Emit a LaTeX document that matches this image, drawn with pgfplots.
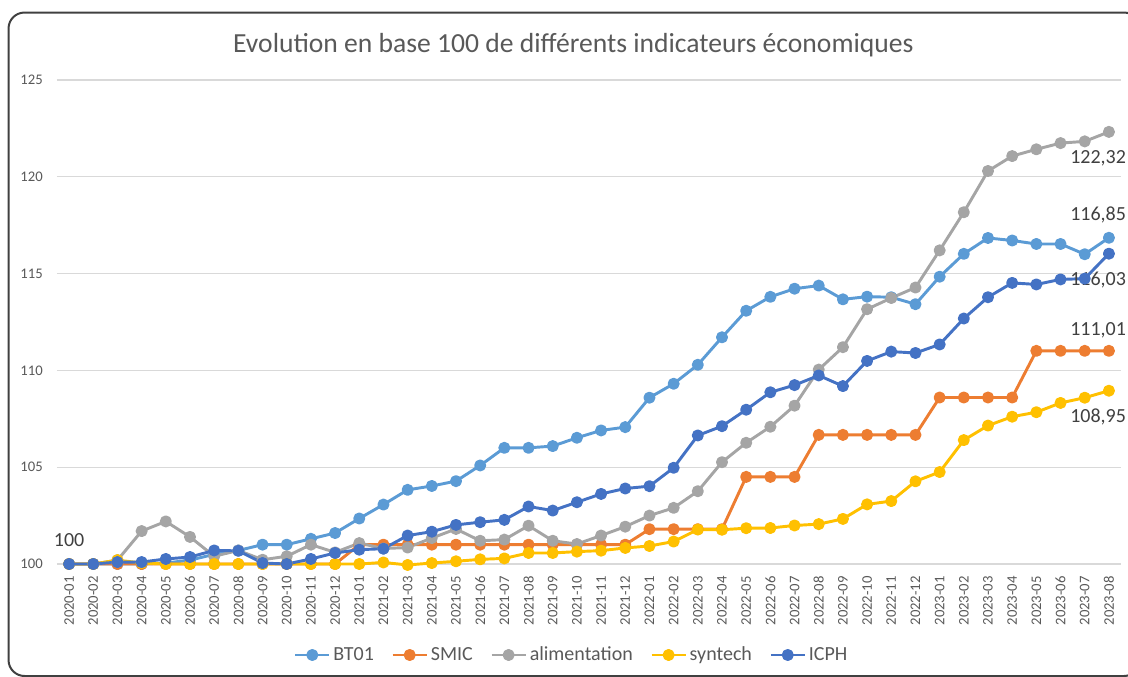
\documentclass[border=0pt]{standalone}
\usepackage{pgfplots}
\usepackage{pgfplotstable}
\pgfplotsset{compat=1.18}
\usepackage{fontspec}
\setmainfont{Carlito}
\definecolor{cBT}{HTML}{5B9BD5}
\definecolor{cSMIC}{HTML}{ED7D31}
\definecolor{cALIM}{HTML}{A5A5A5}
\definecolor{cSYN}{HTML}{FFC000}
\definecolor{cICPH}{HTML}{4472C4}
\definecolor{ctxt}{HTML}{595959}
\definecolor{clab}{HTML}{404040}
\definecolor{cgrid}{HTML}{D9D9D9}

\pgfplotstableread{
x bt smic alim syn icph
0 100 100 100 100 100
1 100 100 100 100 100
2 100 100 100.2 100.2 100.1
3 100 100 101.7 100.05 100.1
4 100.05 100 102.2 100.0 100.26
5 100.2 100 101.4 100.0 100.36
6 100.5 100 100.4 100.0 100.7
7 100.7 100 100.7 100.0 100.68
8 101.0 100 100.22 100.0 100.05
9 101.0 100 100.4 100.0 100.0
10 101.3 100 101.0 100.0 100.26
11 101.6 100 100.6 100.0 100.57
12 102.35 101.0 101.08 100.0 100.74
13 103.07 101.0 100.8 100.08 100.79
14 103.83 101.0 100.85 99.95 101.47
15 104.03 101.0 101.34 100.05 101.67
16 104.28 101.0 101.81 100.14 102.02
17 105.09 101.0 101.2 100.24 102.16
18 106.0 101.0 101.26 100.29 102.28
19 106.0 101.0 101.98 100.57 102.97
20 106.09 101.0 101.2 100.57 102.76
21 106.52 101.0 101.03 100.64 103.19
22 106.9 101.0 101.47 100.69 103.62
23 107.07 101.0 101.93 100.83 103.9
24 108.59 101.8 102.5 100.93 104.02
25 109.31 101.8 102.9 101.16 104.97
26 110.29 101.8 103.76 101.78 106.64
27 111.71 101.8 105.26 101.77 107.12
28 113.08 104.5 106.26 101.85 107.97
29 113.8 104.5 107.09 101.86 108.87
30 114.22 104.5 108.18 101.99 109.24
31 114.38 106.67 110.04 102.06 109.74
32 113.67 106.67 111.2 102.33 109.19
33 113.81 106.67 113.16 103.08 110.49
34 113.78 106.67 113.74 103.25 110.97
35 113.42 106.67 114.28 104.27 110.9
36 114.84 108.6 116.2 104.75 111.34
37 116.02 108.6 118.17 106.4 112.68
38 116.84 108.6 120.3 107.15 113.78
39 116.71 108.6 121.07 107.61 114.52
40 116.53 111.01 121.42 107.84 114.44
41 116.53 111.01 121.74 108.32 114.7
42 116.0 111.01 121.83 108.59 114.74
43 116.85 111.01 122.32 108.95 116.03
}\data

\begin{document}
\begin{tikzpicture}
\useasboundingbox (0,0) rectangle (846pt,-507.75pt);
\clip (0,0) rectangle (846pt,-507.75pt);
\draw[rounded corners=12pt, line width=1.5pt, color=clab] (6.4pt,-9.4pt) rectangle (855pt,-507pt);
\node[font=\fontsize{20.7}{24}\selectfont, text=ctxt] at (430pt,-33.75pt) {Evolution en base 100 de différents indicateurs économiques};
\begin{axis}[
  at={(42.75pt,-423pt)}, anchor=south west,
  scale only axis, width=798pt, height=363pt,
  xmin=-0.5, xmax=43.5, ymin=100, ymax=125,
  ytick={100,105,...,125},
  xtick={0,...,43},
  xticklabels={2020-01,2020-02,2020-03,2020-04,2020-05,2020-06,2020-07,2020-08,2020-09,2020-10,2020-11,2020-12,2021-01,2021-02,2021-03,2021-04,2021-05,2021-06,2021-07,2021-08,2021-09,2021-10,2021-11,2021-12,2022-01,2022-02,2022-03,2022-04,2022-05,2022-06,2022-07,2022-08,2022-09,2022-10,2022-11,2022-12,2023-01,2023-02,2023-03,2023-04,2023-05,2023-06,2023-07,2023-08},
  xticklabel style={rotate=90, anchor=east, font=\fontsize{11}{12}\selectfont, text=ctxt, inner sep=0pt},
  xticklabel shift=9pt,
  yticklabel style={font=\fontsize{11}{12}\selectfont, text=ctxt, inner sep=0pt},
  yticklabel shift=10.5pt,
  /pgf/number format/assume math mode=true,
  ymajorgrids, grid style={line width=1pt, color=cgrid},
  axis line style={draw=none}, major tick length=0pt,
  clip=false,
  legend columns=5,
  legend cell align=left,
  legend style={draw=none, fill=none, at={(0.484,-0.188)}, anchor=center,
    font=\fontsize{15}{16}\selectfont, text=ctxt,
    /tikz/every even column/.append style={column sep=11pt}},
  legend image code/.code={\draw[mark repeat=2,mark phase=2,#1] plot coordinates {(0pt,0pt)(12.75pt,0pt)(25.5pt,0pt)};},
  every axis plot/.append style={line width=2.2pt, mark=*, mark size=3.4pt, line join=round},
]
\addplot[color=cBT, mark options={fill=cBT}] table[x=x,y=bt]{\data};
\addlegendentry{BT01}
\addplot[color=cSMIC, mark options={fill=cSMIC}] table[x=x,y=smic]{\data};
\addlegendentry{SMIC}
\addplot[color=cALIM, mark options={fill=cALIM}] table[x=x,y=alim]{\data};
\addlegendentry{alimentation}
\addplot[color=cSYN, mark options={fill=cSYN}] table[x=x,y=syn]{\data};
\addlegendentry{syntech}
\addplot[color=cICPH, mark options={fill=cICPH}] table[x=x,y=icph]{\data};
\addlegendentry{ICPH}
\node[font=\fontsize{15}{16}\selectfont, text=clab] at (axis cs:0,100) [yshift=18pt] {100};
\node[font=\fontsize{15}{16}\selectfont, text=clab, anchor=east, inner sep=0pt] at (axis cs:43,122.32) [xshift=13pt, yshift=-19.5pt] {122,32};
\node[font=\fontsize{15}{16}\selectfont, text=clab, anchor=east, inner sep=0pt] at (axis cs:43,116.85) [xshift=13pt, yshift=17.25pt] {116,85};
\node[font=\fontsize{15}{16}\selectfont, text=clab, anchor=east, inner sep=0pt] at (axis cs:43,116.03) [xshift=13pt, yshift=-19.5pt] {116,03};
\node[font=\fontsize{15}{16}\selectfont, text=clab, anchor=east, inner sep=0pt] at (axis cs:43,111.01) [xshift=13pt, yshift=15.75pt] {111,01};
\node[font=\fontsize{15}{16}\selectfont, text=clab, anchor=east, inner sep=0pt] at (axis cs:43,108.95) [xshift=13pt, yshift=-19.5pt] {108,95};
\end{axis}
\end{tikzpicture}
\end{document}
